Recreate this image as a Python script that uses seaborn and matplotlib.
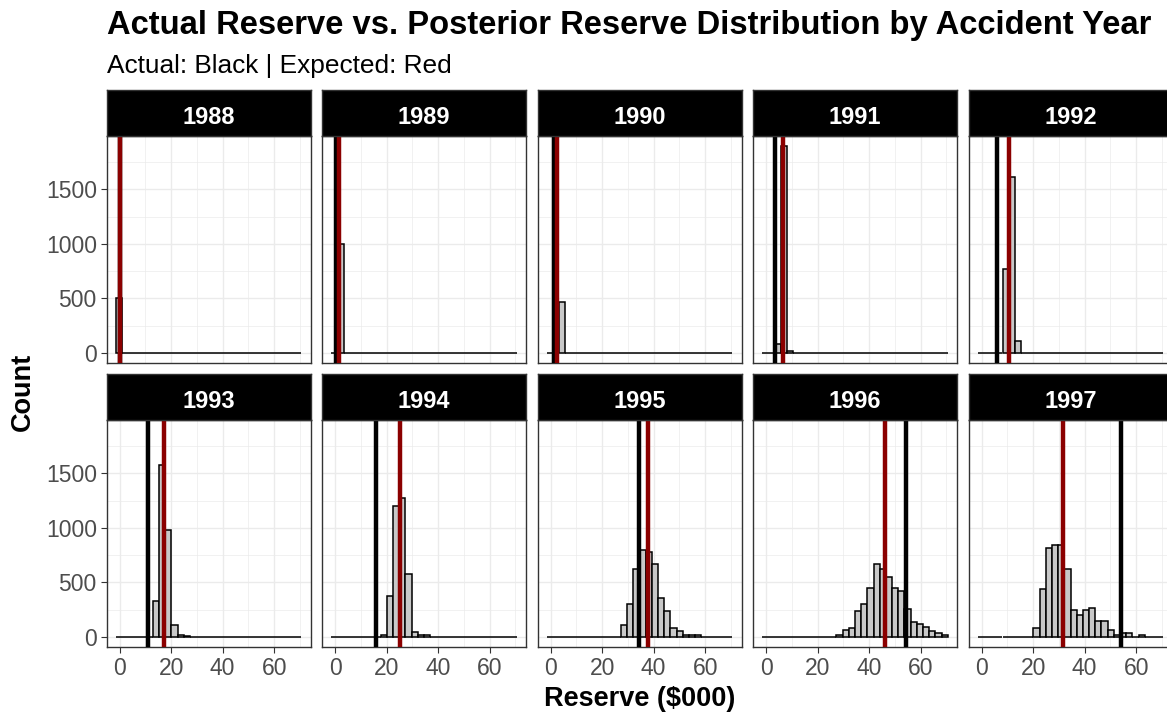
import numpy as np
import pandas as pd
import matplotlib
matplotlib.use("Agg")
import matplotlib.pyplot as plt
from matplotlib.ticker import FixedLocator
import seaborn as sns

# ---------------- data ----------------
years = [1988, 1989, 1990, 1991, 1992, 1993, 1994, 1995, 1996, 1997]
bin_start = -1.5
bin_width = 2.4
n_bins = 30

counts_1988 = [500, 0, 0, 0, 0, 0, 0, 0, 0, 0, 0, 0, 0, 0, 0, 0, 0, 0, 0, 0, 0, 0, 0, 0, 0, 0, 0, 0, 0, 0]
counts_1989 = [0, 1000, 0, 0, 0, 0, 0, 0, 0, 0, 0, 0, 0, 0, 0, 0, 0, 0, 0, 0, 0, 0, 0, 0, 0, 0, 0, 0, 0, 0]
counts_1990 = [0, 0, 466, 0, 0, 0, 0, 0, 0, 0, 0, 0, 0, 0, 0, 0, 0, 0, 0, 0, 0, 0, 0, 0, 0, 0, 0, 0, 0, 0]
counts_1991 = [0, 0, 80, 1893, 18, 0, 0, 0, 0, 0, 0, 0, 0, 0, 0, 0, 0, 0, 0, 0, 0, 0, 0, 0, 0, 0, 0, 0, 0, 0]
counts_1992 = [0, 0, 0, 0, 766, 1608, 107, 0, 0, 0, 0, 0, 0, 0, 0, 0, 0, 0, 0, 0, 0, 0, 0, 0, 0, 0, 0, 0, 0, 0]
counts_1993 = [0, 0, 0, 0, 0, 0, 326, 1572, 981, 113, 21, 5, 0, 0, 0, 0, 0, 0, 0, 0, 0, 0, 0, 0, 0, 0, 0, 0, 0, 0]
counts_1994 = [0, 0, 0, 0, 0, 0, 0, 0, 20, 378, 1197, 1274, 579, 49, 20, 18, 0, 0, 0, 0, 0, 0, 0, 0, 0, 0, 0, 0, 0, 0]
counts_1995 = [0, 0, 0, 0, 0, 0, 0, 0, 0, 0, 0, 0, 113, 299, 625, 795, 777, 670, 357, 238, 79, 52, 20, 20, 18, 0, 0, 0, 0, 0]
counts_1996 = [0, 0, 0, 0, 0, 0, 0, 0, 0, 0, 0, 0, 20, 64, 82, 235, 299, 451, 670, 619, 546, 451, 424, 256, 140, 119, 94, 52, 40, 20]
counts_1997 = [0, 0, 0, 0, 0, 0, 0, 0, 0, 79, 439, 811, 841, 841, 622, 250, 201, 250, 268, 143, 143, 67, 21, 33, 33, 0, 21, 0, 0, 0]

actual = [0.0, 0.2, 1.3, 3.4, 6.0, 10.9, 16.0, 34.3, 54.2, 54.1]
expected = [0.15, 1.4, 2.6, 6.7, 10.6, 17.3, 25.3, 37.7, 46.3, 31.7]

x_ticks = [0, 20, 40, 60]
y_ticks = [0, 500, 1000, 1500]

title = "Actual Reserve vs. Posterior Reserve Distribution by Accident Year"
subtitle = "Actual: Black | Expected: Red"
x_label = "Reserve ($000)"
y_label = "Count"

all_counts = [counts_1988, counts_1989, counts_1990, counts_1991, counts_1992,
              counts_1993, counts_1994, counts_1995, counts_1996, counts_1997]

edges = [float(bin_start + bin_width * k) for k in range(n_bins + 1)]
centers = [(edges[k] + edges[k + 1]) / 2 for k in range(n_bins)]
rows = []
for yr, cts in zip(years, all_counts):
    for cc, n in zip(centers, cts):
        rows.append({"year": yr, "reserve": cc, "n": n})
df = pd.DataFrame(rows)

# ---------------- style ----------------
sns.set_style("white")
plt.rcParams["font.family"] = ["Liberation Sans", "DejaVu Sans"]
plt.rcParams["text.color"] = "black"

W, H = 1167, 717
fig = plt.figure(figsize=(W / 100, H / 100), dpi=100)


def fr(left, top, width, height):
    return [left / W, 1 - (top + height) / H, width / W, height / H]


col_lefts = [106.5, 322, 537.5, 753, 968.5]
panel_w = 204
panel_tops = [136, 420]
panel_h = 227.3
strip_tops = [90, 374.3]
strip_h = 46

span = edges[-1] - edges[0]
xlim = (edges[0] - 0.05 * span, edges[-1] + 0.05 * span)
ymax = df["n"].max()
ylim = (-0.05 * ymax, 1.05 * ymax)

tick_color = "#4D4D4D"
line_color = "#333333"

for i, yr in enumerate(years):
    r, c = divmod(i, 5)
    ax = fig.add_axes(fr(col_lefts[c], panel_tops[r], panel_w, panel_h))
    ax.set_axisbelow(True)
    sub = df[df["year"] == yr]
    sns.histplot(data=sub, x="reserve", weights="n", bins=edges, ax=ax,
                 color="#C8C8C8", edgecolor="black", linewidth=1.1, alpha=1)
    ax.axvline(actual[i], color="black", lw=3.2, zorder=5)
    ax.axvline(expected[i], color="#8B0000", lw=3.2, zorder=6)
    ax.set_xlim(*xlim)
    ax.set_ylim(*ylim)
    ax.xaxis.set_major_locator(FixedLocator(x_ticks))
    ax.yaxis.set_major_locator(FixedLocator(y_ticks))
    ax.xaxis.set_minor_locator(FixedLocator([10, 30, 50, 70]))
    ax.yaxis.set_minor_locator(FixedLocator([250, 750, 1250, 1750]))
    ax.grid(which="major", color="#EBEBEB", lw=1.0)
    ax.grid(which="minor", color="#EBEBEB", lw=0.5)
    ax.set_xlabel("")
    ax.set_ylabel("")
    for s in ax.spines.values():
        s.set_color(line_color)
        s.set_linewidth(1.0)
    ax.tick_params(which="minor", length=0)
    ax.tick_params(which="major", length=4, width=0.8, color=line_color,
                   labelcolor=tick_color, labelsize=16.5, pad=3)
    ax.tick_params(axis="x", bottom=(r == 1), labelbottom=(r == 1))
    ax.tick_params(axis="y", left=(c == 0), labelleft=(c == 0))

    # strip
    sax = fig.add_axes(fr(col_lefts[c], strip_tops[r], panel_w, strip_h))
    sax.set_facecolor("black")
    sax.set_xticks([])
    sax.set_yticks([])
    for s in sax.spines.values():
        s.set_color(line_color)
        s.set_linewidth(1.0)
    fig.text((col_lefts[c] + panel_w / 2) / W, 1 - (strip_tops[r] + 34) / H,
             str(yr), color="white", fontsize=17, fontweight="bold",
             ha="center", va="baseline")

fig.text(107 / W, 1 - 34.3 / H, title, fontsize=23.6, fontweight="bold",
         ha="left", va="baseline", color="black")
fig.text(107 / W, 1 - 73.3 / H, subtitle, fontsize=18.9,
         ha="left", va="baseline", color="black")
fig.text(639.5 / W, 1 - 705.5 / H, x_label, fontsize=19.5, fontweight="bold",
         ha="center", va="baseline", color="black")
fig.text(22.5 / W, 1 - 391.5 / H, y_label, fontsize=19.5, fontweight="bold",
         ha="center", va="center", rotation=90, color="black")

fig.savefig("out.png", dpi=100)
